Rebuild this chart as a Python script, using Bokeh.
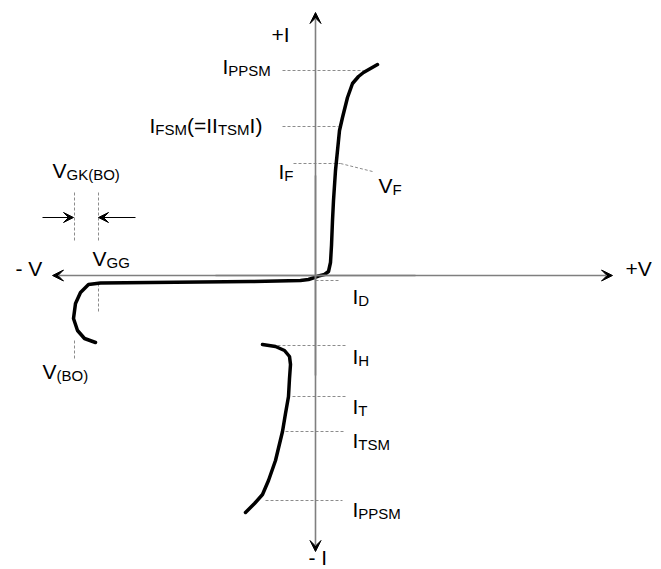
from bokeh.plotting import figure
from bokeh.models import Range1d, Arrow, VeeHead, ColumnDataSource
from bokeh.core.properties import value
from bokeh.embed import file_html
from bokeh.resources import INLINE

# ---------------- data (V, I in drawing units, origin at axes crossing) -------------
# main characteristic: reverse-blocking branch -> origin -> forward on-state branch
curve_v = [-220, -231, -238, -242, -240, -235, -227, -215, -165, -115, -65, -15, -7, -1,
           3, 9, 13, 15, 16, 17, 18, 20, 22, 24, 27, 32, 37, 43, 48, 55, 62]
curve_i = [-67, -63, -55, -43, -28, -17, -9, -7.5, -7, -6.5, -6, -5, -4, -2,
           -0.5, 1, 4, 13, 30, 55, 75, 105, 125, 145, 158, 178, 192, 199, 203, 207, 211]

# reverse on-state branch (third quadrant)
rev_v = [-53, -40, -31, -26, -25, -26, -27, -30, -33, -40, -47, -53, -61, -70]
rev_i = [-69, -71, -75, -81, -89, -103, -121, -138, -156, -185, -205, -219, -228, -237]

# horizontal reference levels: current level, start V, end V
ref_names = ["I_PPSM+", "I_FSM", "I_F", "I_D", "I_H", "I_T", "I_TSM", "I_PPSM-"]
ref_level = [205, 149, 112, -5, -70, -121, -156, -225]
ref_v0 = [-33, -33, -22, 0, -43, -23, -30, -50]
ref_v1 = [48, 23, 25, 25, 31, 31, 28, 27]

# vertical reference markers (voltage, I from, I to)
vref_v = [-217, -217, -241, -241]
vref_i0 = [-8, 83, 83, -65]
vref_i1 = [-38, 33, 33, -83]

# V_F leader
vf_v = [25, 57]
vf_i = [112, 104]

# ---------------- layout -------------
W, H = 661, 569
OX, OY = 315, 275          # origin position inside the canvas (px from left / top)
FONT = "Liberation Sans"
MAIN, SUB = 21, 15
SUB_DROP = 4
TXT_UP = 7

p = figure(width=W, height=H, output_backend="svg", toolbar_location=None,
           x_range=Range1d(-OX, W - OX), y_range=Range1d(-(H - OY), OY),
           x_axis_location=None, y_axis_location=None, min_border=0,
           background_fill_color="white", border_fill_color="white")
p.grid.visible = False
p.outline_line_color = None

AX = "#7f7f7f"
def head(s=11):
    return VeeHead(size=s, fill_color="black", line_color="black", line_width=1)

# axes with arrowheads
p.add_layout(Arrow(x_start=-100, y_start=0, x_end=297, y_end=0, line_color=AX, line_width=1.6, end=head()))
p.add_layout(Arrow(x_start=100, y_start=0, x_end=-263, y_end=0, line_color=AX, line_width=1.6, end=head()))
p.add_layout(Arrow(x_start=0, y_start=-100, x_end=0, y_end=263, line_color=AX, line_width=1.6, end=head()))
p.add_layout(Arrow(x_start=0, y_start=100, x_end=0, y_end=-276, line_color=AX, line_width=1.6, end=head()))

# gate-voltage offset arrows
p.add_layout(Arrow(x_start=-273, y_start=58, x_end=-242, y_end=58, line_color="black", line_width=1, end=head(10)))
p.add_layout(Arrow(x_start=-180, y_start=58, x_end=-217, y_end=58, line_color="black", line_width=1, end=head(10)))

DASH = "#8c8c8c"
p.segment(x0=ref_v0, y0=ref_level, x1=ref_v1, y1=ref_level, line_color=DASH, line_width=1,
          line_dash="3 2")
p.segment(x0=vref_v, y0=vref_i0, x1=vref_v, y1=vref_i1, line_color=DASH, line_width=1,
          line_dash="3 2")
p.line(vf_v, vf_i, line_color=DASH, line_width=1, line_dash="3 2")

# curves
p.line(curve_v, curve_i, line_color="black", line_width=3.5, line_join="round", line_cap="round")
p.line(rev_v, rev_i, line_color="black", line_width=3.5, line_join="round", line_cap="round")

# ---------------- labels -------------
CW = {"I": .278, "V": .667, "+": .584, "-": .333, " ": .278, "F": .611, "S": .667, "M": .833,
      "P": .667, "T": .611, "H": .722, "D": .722, "G": .778, "K": .667, "B": .667, "O": .778,
      "(": .333, ")": .333, "=": .584}

labels = [
    ([("+I", 0)], -44, 234),
    ([("I", 0), ("PPSM", 1)], -93, 202),
    ([("I", 0), ("FSM", 1), ("(=II", 0), ("TSM", 1), ("I)", 0)], -166, 143),
    ([("I", 0), ("F", 1)], -37, 97),
    ([("V", 0), ("F", 1)], 63, 83),
    ([("V", 0), ("GK(BO)", 1)], -263, 98),
    ([("V", 0), ("GG", 1)], -223, 10),
    ([("- V", 0)], -300, 0),
    ([("+V", 0)], 310, 0),
    ([("I", 0), ("D", 1)], 37, -28),
    ([("I", 0), ("H", 1)], 37, -88),
    ([("I", 0), ("T", 1)], 37, -138),
    ([("I", 0), ("TSM", 1)], 37, -172),
    ([("I", 0), ("PPSM", 1)], 37, -241),
    ([("V", 0), ("(BO)", 1)], -273, -103),
    ([("- I", 0)], -7, -289),
]

rows = dict(x=[], y=[], text=[], xo=[], yo=[], size=[])
for segs, x, y in labels:
    off = 0.0
    for txt, sub in segs:
        fs = SUB if sub else MAIN
        rows["x"].append(x)
        rows["y"].append(y + TXT_UP)
        rows["text"].append(txt)
        rows["xo"].append(off)
        rows["yo"].append(SUB_DROP if sub else 0)
        rows["size"].append(f"{fs}px")
        off += sum(CW.get(c, .6) for c in txt) * fs

src = ColumnDataSource(rows)
p.text(x="x", y="y", text="text", x_offset="xo", y_offset="yo", text_font_size="size",
       text_font=value(FONT), text_color="black", text_baseline="alphabetic",
       text_align="left", source=src)

open("out.html", "w").write(file_html(p, INLINE))
